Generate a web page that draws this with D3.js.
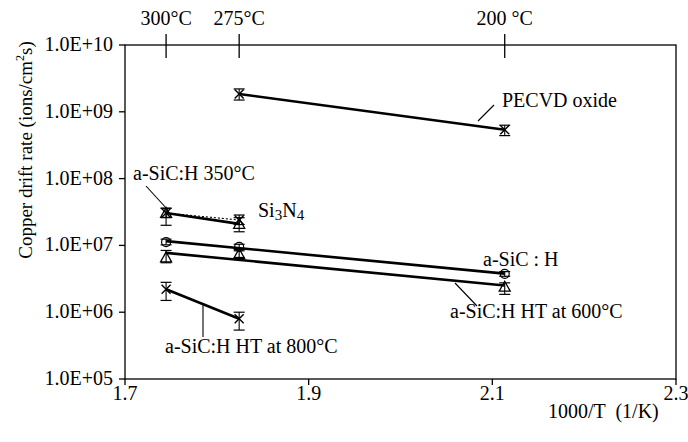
<!DOCTYPE html>
<html>
<head>
<meta charset="utf-8">
<script src="https://cdn.jsdelivr.net/npm/d3@7"></script>
</head>
<body style="margin:0">
<svg id="chart" width="688" height="442"></svg>
<script>
// Anneal temperatures on the top axis (°C) and their labels
const tempTicksC = [300, 275, 200];
const tempTickLabels = ["300°C", "275°C", "200 °C"];

// Bottom axis (1000/T) and log-scale left axis
const xTicks = [1.7, 1.9, 2.1, 2.3];
const xTickLabels = ["1.7", "1.9", "2.1", "2.3"];
const yTicks = [1e5, 1e6, 1e7, 1e8, 1e9, 1e10];
const yTickLabels = ["1.0E+05", "1.0E+06", "1.0E+07", "1.0E+08", "1.0E+09", "1.0E+10"];

// Copper drift rates (ions/cm^2 s) with error-bar bounds
const pecvdTemps = [275, 200];
const pecvdRate  = [1.85e9, 5.4e8];
const pecvdLow   = [1.5e9, 4.4e8];
const pecvdHigh  = [2.2e9, 6.3e8];

const sic350Temps = [300, 275];
const sic350Rate  = [3.05e7, 2.1e7];
const sic350Low   = [2.0e7, 1.6e7];
const sic350High  = [3.6e7, 2.6e7];

const si3n4Temps = [300, 275];
const si3n4Rate  = [3.05e7, 2.4e7];
const si3n4Low   = [2.6e7, 2.05e7];
const si3n4High  = [3.6e7, 2.85e7];

const sicTemps = [300, 275, 200];
const sicRate  = [1.12e7, 9.5e6, 3.75e6];
const sicLow   = [1.02e7, 8.7e6, 3.45e6];
const sicHigh  = [1.24e7, 1.04e7, 4.05e6];

const ht600Temps = [300, 275, 200];
const ht600Rate  = [6.6e6, 7.4e6, 2.4e6];
const ht600Low   = [5.5e6, 6.6e6, 1.85e6];
const ht600High  = [8.4e6, 8.3e6, 2.75e6];

const ht800Temps = [300, 275];
const ht800Rate  = [2.2e6, 8.0e5];
const ht800Low   = [1.5e6, 5.4e5];
const ht800High  = [2.8e6, 1.0e6];

const invT = c => 1000 / (c + 273.15);

const svg = d3.select("#chart").style("display", "block");
const margin = { left: 125, right: 12, top: 45, bottom: 63 };
const W = 688, H = 442;

const x = d3.scaleLinear().domain([1.7, 2.3]).range([margin.left, W - margin.right]);
const y = d3.scaleLog().domain([1e5, 1e10]).range([H - margin.bottom, margin.top]);

const FS = 20;

function build(temps, rate, low, high) {
  return temps.map((t, i) => ({ x: invT(t), v: rate[i], lo: low[i], hi: high[i] }));
}

const series = [
  { name: "pecvd", pts: build(pecvdTemps, pecvdRate, pecvdLow, pecvdHigh), marker: "x", dash: null },
  { name: "sic350", pts: build(sic350Temps, sic350Rate, sic350Low, sic350High), marker: "tri", dash: null },
  { name: "si3n4", pts: build(si3n4Temps, si3n4Rate, si3n4Low, si3n4High), marker: "x", dash: "2,2", thin: true },
  { name: "sic", pts: build(sicTemps, sicRate, sicLow, sicHigh), marker: "circle", dash: null },
  { name: "ht600", pts: build(ht600Temps, ht600Rate, ht600Low, ht600High), marker: "tri", dash: null },
  { name: "ht800", pts: build(ht800Temps, ht800Rate, ht800Low, ht800High), marker: "x", dash: null }
];

// Exponential trend line: least squares of log10(rate) against 1000/T
function trend(pts) {
  const mx = d3.mean(pts, p => p.x);
  const my = d3.mean(pts, p => Math.log10(p.v));
  let sxy = 0, sxx = 0;
  pts.forEach(p => { sxy += (p.x - mx) * (Math.log10(p.v) - my); sxx += (p.x - mx) ** 2; });
  const b = sxx ? sxy / sxx : 0;
  const f = xv => Math.pow(10, my + b * (xv - mx));
  const xs = d3.extent(pts, p => p.x);
  return xs.map(xv => ({ x: xv, v: f(xv) }));
}

// Frame
svg.append("rect")
  .attr("x", x(1.7)).attr("y", y(1e10))
  .attr("width", x(2.3) - x(1.7)).attr("height", y(1e5) - y(1e10))
  .attr("fill", "none").attr("stroke", "#000").attr("stroke-width", 1.3);

// Tick marks on all three axes
svg.selectAll(".xt").data(xTicks).join("line").attr("class", "xt")
  .attr("x1", d => x(d)).attr("x2", d => x(d))
  .attr("y1", y(1e5)).attr("y2", y(1e5) + 6)
  .attr("stroke", "#000").attr("stroke-width", 1.3);
svg.selectAll(".yt").data(yTicks).join("line").attr("class", "yt")
  .attr("x1", x(1.7) - 6).attr("x2", x(1.7))
  .attr("y1", d => y(d)).attr("y2", d => y(d))
  .attr("stroke", "#000").attr("stroke-width", 1.3);
svg.selectAll(".tt").data(tempTicksC).join("line").attr("class", "tt")
  .attr("x1", d => x(invT(d))).attr("x2", d => x(invT(d)))
  .attr("y1", y(1e10) - 11).attr("y2", y(1e10) + 13)
  .attr("stroke", "#000").attr("stroke-width", 1.3);

// Trend lines
const line = d3.line().x(d => x(d.x)).y(d => y(d.v));
series.forEach(s => {
  svg.append("path")
    .attr("d", line(s.thin ? s.pts : trend(s.pts)))
    .attr("fill", "none").attr("stroke", "#000")
    .attr("stroke-width", s.thin ? 1.1 : 2.6)
    .attr("stroke-dasharray", s.dash);
});

// Error bars and markers
series.forEach(s => {
  s.pts.forEach(p => {
    const cx = x(p.x), yl = y(p.lo), yh = y(p.hi), cy = y(p.v);
    svg.append("line").attr("x1", cx).attr("x2", cx).attr("y1", yl).attr("y2", yh)
      .attr("stroke", "#000").attr("stroke-width", 1.1);
    [yl, yh].forEach(yy => svg.append("line")
      .attr("x1", cx - 5.5).attr("x2", cx + 5.5).attr("y1", yy).attr("y2", yy)
      .attr("stroke", "#000").attr("stroke-width", 1.2));
    if (s.marker === "x") {
      const r = 4.5;
      svg.append("path")
        .attr("d", `M${cx - r},${cy - r}L${cx + r},${cy + r}M${cx - r},${cy + r}L${cx + r},${cy - r}`)
        .attr("stroke", "#000").attr("stroke-width", 1.4);
    } else if (s.marker === "tri") {
      const r = 5.5;
      svg.append("path")
        .attr("d", `M${cx},${cy - r}L${cx + r},${cy + r * 0.8}L${cx - r},${cy + r * 0.8}Z`)
        .attr("fill", "none").attr("stroke", "#000").attr("stroke-width", 1.3);
    } else {
      svg.append("circle").attr("cx", cx).attr("cy", cy).attr("r", 4.5)
        .attr("fill", "none").attr("stroke", "#000").attr("stroke-width", 1.2);
    }
  });
});

// Leader lines from callouts to their series
const leaders = [[478, 121, 494, 105], [146, 186, 168, 210], [455, 283, 477, 306], [203, 304, 203, 337]];
leaders.forEach(l => svg.append("line")
  .attr("x1", l[0]).attr("y1", l[1]).attr("x2", l[2]).attr("y2", l[3])
  .attr("stroke", "#000").attr("stroke-width", 1.1));

// Labels: each group written in a serif face
function label(fam, xp, yp, size) {
  return svg.append("text").attr("x", xp).attr("y", yp)
    .style("font-family", fam).style("font-size", (size || FS) + "px");
}

yTicks.forEach((d, i) => label("Liberation Serif", x(1.7) - 12, y(d) + 6).attr("text-anchor", "end").text(yTickLabels[i]));
xTicks.forEach((d, i) => label("Times New Roman", x(d), y(1e5) + 21).attr("text-anchor", "middle").text(xTickLabels[i]));
label("Times", 548, 418).attr("xml:space", "preserve").text("1000/T  (1/K)");
tempTicksC.forEach((d, i) => label("serif", x(invT(d)), 25).attr("text-anchor", "middle").text(tempTickLabels[i]));

const yTitle = label("Tinos", 0, 0, 19)
  .attr("transform", "translate(32,150) rotate(-90)")
  .attr("text-anchor", "middle");
yTitle.append("tspan").text("Copper drift rate (ions/cm");
yTitle.append("tspan").style("font-size", "12px").attr("dy", -8).text("2");
yTitle.append("tspan").attr("dy", 8).text("s)");

label("Liberation Serif", 502, 107).text("PECVD oxide");
label("Times New Roman", 133, 180).text("a-SiC:H 350°C");
const siN = label("Liberation Serif", 258, 217);
siN.append("tspan").text("Si");
siN.append("tspan").style("font-size", "15px").attr("dy", 3).text("3");
siN.append("tspan").attr("dy", -3).text("N");
siN.append("tspan").style("font-size", "15px").attr("dy", 3).text("4");
label("serif", 483, 266).text("a-SiC : H");
label("Times", 450, 318).text("a-SiC:H HT at 600°C");
label("Liberation Serif", 165, 353).text("a-SiC:H HT at 800°C");
</script>
</body>
</html>
